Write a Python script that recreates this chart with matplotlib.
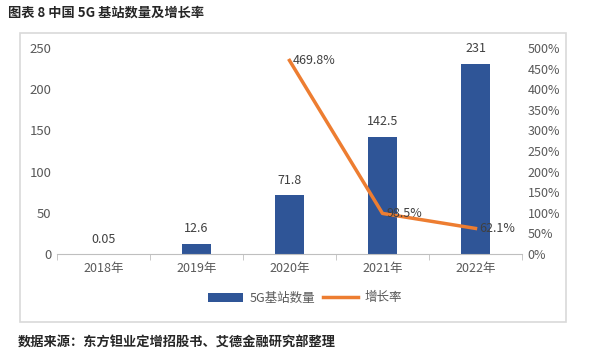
import matplotlib.pyplot as plt
import numpy as np
from matplotlib.patches import Rectangle

plt.rcParams['font.family'] = ['Noto Sans CJK SC', 'DejaVu Sans']

years = ['2018年', '2019年', '2020年', '2021年', '2022年']
stations = [0.05, 12.6, 71.8, 142.5, 231]
growth = [np.nan, np.nan, 469.8, 98.5, 62.1]
bar_labels = ['0.05', '12.6', '71.8', '142.5', '231']

bar_color = '#2F5597'
line_color = '#ED7D31'
txt_color = '#595959'

fig = plt.figure(figsize=(5.92, 3.58), dpi=100)

# outer light frame
fig.patches.append(Rectangle((20 / 592, 1 - 322 / 358), 546 / 592, 289 / 358,
                             transform=fig.transFigure, fill=False,
                             edgecolor='#D9D9D9', linewidth=1.2))

ax = fig.add_axes([57 / 592, 1 - 254 / 358, 465 / 592, 206 / 358])
x = np.arange(len(years))
bars = ax.bar(x, stations, width=0.31, color=bar_color, label='5G基站数量', zorder=2)
for xi, v, lab in zip(x, stations, bar_labels):
    ax.text(xi, v + 10, lab, ha='center', va='bottom', fontsize=9, color='#404040')

ax.set_xlim(-0.5, 4.5)
ax.set_ylim(0, 250)
ax.set_yticks(range(0, 251, 50))
ax.set_xticks(x)
ax.set_xticklabels(years)
ax.set_xticks(np.arange(-0.5, 5, 1), minor=True)
ax.tick_params(axis='x', which='major', length=0, pad=6, labelsize=9, labelcolor=txt_color)
ax.tick_params(axis='x', which='minor', length=4, color='#BFBFBF')
ax.tick_params(axis='y', length=0, labelsize=9.5, labelcolor=txt_color, pad=4)
for s in ['top', 'right', 'left']:
    ax.spines[s].set_visible(False)
ax.spines['bottom'].set_color('#BFBFBF')

ax2 = ax.twinx()
line, = ax2.plot(x, growth, color=line_color, linewidth=2.5, label='增长率', zorder=3)
ax2.set_ylim(0, 500)
ax2.set_yticks(range(0, 501, 50))
ax2.set_yticklabels([f'{v}%' for v in range(0, 501, 50)])
ax2.tick_params(axis='y', length=0, labelsize=9, labelcolor=txt_color, pad=4)
for s in ['top', 'right', 'left', 'bottom']:
    ax2.spines[s].set_visible(False)
for xi, g in zip(x, growth):
    if not np.isnan(g):
        ax2.text(xi + 0.04, g, f'{g}%', ha='left', va='center', fontsize=9, color='#404040')

fig.legend([bars, line], ['5G基站数量', '增长率'], loc='center', ncol=2,
           bbox_to_anchor=(305 / 592, 1 - 298 / 358), frameon=False,
           fontsize=9, labelcolor=txt_color, handlelength=2.8, columnspacing=0.6,
           handletextpad=0.5)

fig.text(8 / 592, 1 - 13 / 358, '图表 8 中国 5G 基站数量及增长率', fontsize=9.5,
         fontweight='bold', color='#262626', va='center')
fig.text(18 / 592, 1 - 343 / 358, '数据来源：东方钽业定增招股书、艾德金融研究部整理', fontsize=9.5,
         fontweight='bold', color='#262626', va='center')

fig.savefig('out.png', dpi=100)
